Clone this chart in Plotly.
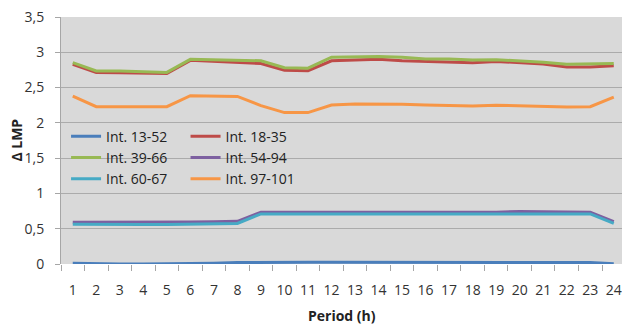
import plotly.graph_objects as go

periods = [str(i) for i in range(1, 25)]

int_13_52 = [0.01, 0.0, 0.0, 0.0, 0.0, 0.005, 0.01, 0.02, 0.025, 0.025, 0.025, 0.025,
             0.025, 0.025, 0.025, 0.025, 0.025, 0.025, 0.025, 0.025, 0.025, 0.025, 0.02, 0.005]
int_18_35 = [2.83, 2.715, 2.71, 2.71, 2.70, 2.886, 2.87, 2.85, 2.84, 2.745, 2.74, 2.88,
             2.89, 2.90, 2.88, 2.87, 2.87, 2.85, 2.87, 2.85, 2.834, 2.79, 2.79, 2.81]
int_39_66 = [2.853, 2.735, 2.735, 2.73, 2.715, 2.90, 2.895, 2.885, 2.88, 2.78, 2.775, 2.93,
             2.935, 2.94, 2.93, 2.905, 2.905, 2.89, 2.895, 2.877, 2.86, 2.83, 2.83, 2.84]
int_54_94 = [0.59, 0.59, 0.59, 0.585, 0.59, 0.595, 0.60, 0.605, 0.735, 0.735, 0.74, 0.74,
             0.735, 0.735, 0.735, 0.73, 0.735, 0.735, 0.735, 0.745, 0.74, 0.735, 0.735, 0.60]
int_60_67 = [0.565, 0.56, 0.56, 0.56, 0.56, 0.565, 0.57, 0.575, 0.71, 0.71, 0.715, 0.72,
             0.715, 0.715, 0.715, 0.71, 0.715, 0.715, 0.715, 0.72, 0.72, 0.715, 0.71, 0.575]
int_97_101 = [2.38, 2.23, 2.23, 2.235, 2.23, 2.385, 2.385, 2.375, 2.245, 2.145, 2.145, 2.253,
              2.267, 2.267, 2.262, 2.253, 2.25, 2.24, 2.25, 2.24, 2.235, 2.225, 2.23, 2.366]

y_tick_vals = [0, 0.5, 1, 1.5, 2, 2.5, 3, 3.5]
y_tick_text = ["0", "0,5", "1", "1,5", "2", "2,5", "3", "3,5"]

series = [
    ("Int. 13-52", int_13_52, "#4A7EBB", "legend"),
    ("Int. 18-35", int_18_35, "#BE4B48", "legend2"),
    ("Int. 39-66", int_39_66, "#98B954", "legend"),
    ("Int. 54-94", int_54_94, "#7D60A0", "legend2"),
    ("Int. 60-67", int_60_67, "#46AAC5", "legend"),
    ("Int. 97-101", int_97_101, "#F79646", "legend2"),
]

FONT = "Open Sans"
fig = go.Figure()
for name, vals, color, lg in series:
    fig.add_trace(go.Scatter(x=periods, y=vals, name=name, mode="lines",
                             line=dict(color=color, width=3), legend=lg))

legend_common = dict(bgcolor="rgba(0,0,0,0)", font=dict(family=FONT, size=14, color="#222"),
                     itemwidth=30, tracegroupgap=0, orientation="v",
                     xanchor="left", yanchor="top")

fig.update_layout(
    width=622, height=325,
    margin=dict(l=61, r=0, t=17, b=61),
    paper_bgcolor="white",
    plot_bgcolor="#D9D9D9",
    font=dict(family=FONT, size=14, color="#333"),
    legend=dict(x=0.009, y=0.58, **legend_common),
    legend2=dict(x=0.222, y=0.58, **legend_common),
    xaxis=dict(type="category", range=[-0.5, 23.35], tickson="boundaries",
               ticks="outside", ticklen=6, tickcolor="#A6A6A6", tickwidth=1,
               showgrid=False, showline=False, zeroline=False, tickangle=0,
               tickfont=dict(family=FONT, size=14, color="#333"),
               ticklabelstandoff=16),
    yaxis=dict(range=[0, 3.5], tickvals=y_tick_vals, ticktext=y_tick_text,
               ticks="outside", ticklen=5, tickcolor="#A6A6A6", tickwidth=1,
               showgrid=True, gridcolor="#ABABAB", gridwidth=1.3,
               showline=True, linecolor="#A6A6A6", linewidth=1,
               zeroline=False, ticklabelstandoff=8,
               tickfont=dict(family=FONT, size=14, color="#333")),
    annotations=[
        dict(text="<b>Δ LMP</b>", xref="paper", yref="paper", x=-0.08, y=0.5,
             xanchor="center", yanchor="middle", textangle=-90, showarrow=False,
             font=dict(family=FONT, size=14, color="#222")),
        dict(text="<b>Period (h)</b>", xref="paper", yref="paper", x=0.5, y=-0.208,
             xanchor="center", yanchor="middle", showarrow=False,
             font=dict(family=FONT, size=14, color="#222")),
    ],
)

fig.write_html("out.html")
